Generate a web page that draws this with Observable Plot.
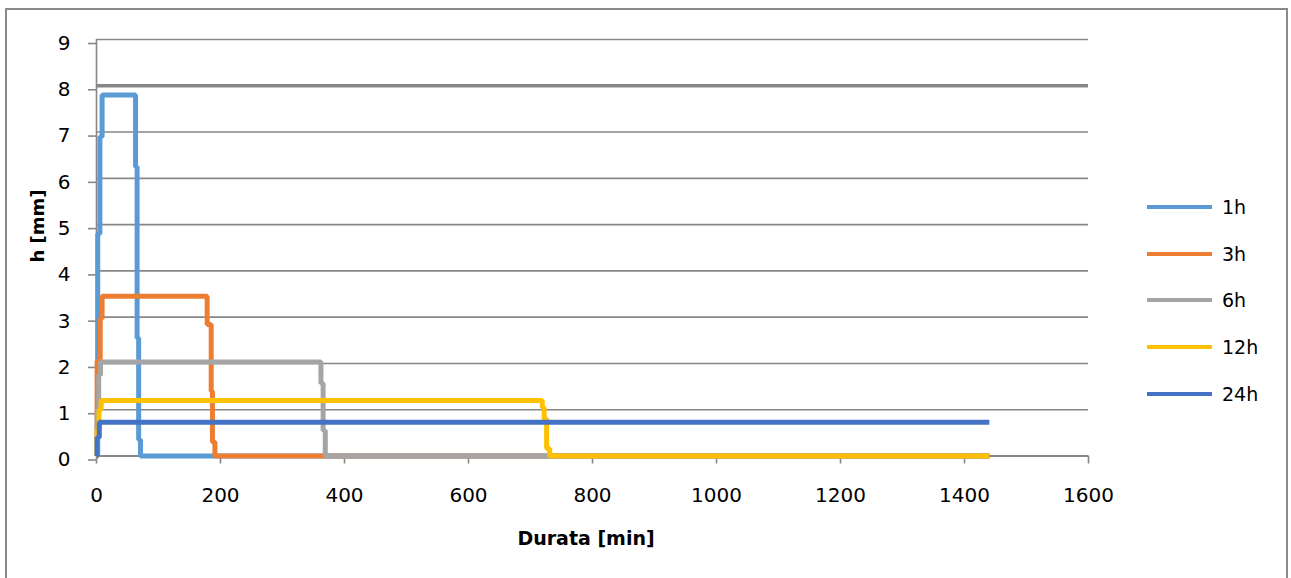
<!DOCTYPE html>
<html>
<head>
<meta charset="utf-8">
<script src="https://cdn.jsdelivr.net/npm/d3@7"></script>
<script src="https://cdn.jsdelivr.net/npm/@observablehq/plot@0.6"></script>
<style>
  body { margin: 0; background: #fff; }
  #wrap { position: relative; width: 1291px; height: 578px; overflow: hidden;
          font-family: "DejaVu Sans", Verdana, sans-serif; color: #000; }
  #frame { position: absolute; left: 5px; top: 8px; width: 1283px; height: 620px;
           border: 2px solid #8a8a8a; box-sizing: border-box; }
  #chart { position: absolute; left: 0; top: 0; }
  .ytitle { position: absolute; left: 37px; top: 226px; transform: translate(-50%, -50%) rotate(-90deg);
            font-weight: bold; font-size: 18px; white-space: nowrap; }
  .xtitle { position: absolute; left: 586px; top: 527px; transform: translateX(-50%);
            font-weight: bold; font-size: 19px; white-space: nowrap; }
  #legend { position: absolute; left: 1147px; top: 184px; }
  .item { position: relative; height: 46.7px; }
  .swatch { position: absolute; left: 0; top: 21px; width: 65px; height: 4px; }
  .lab { position: absolute; left: 75px; top: 11px; font-size: 19px; line-height: 24px; }
</style>
</head>
<body>
<div id="wrap">
  <div id="frame"></div>
  <div id="chart"></div>
  <div class="ytitle">h [mm]</div>
  <div class="xtitle">Durata [min]</div>
  <div id="legend"></div>
</div>
<script>
// Hyetographs of constant-intensity rain for several durations: [time (min), depth (mm)]
const seriesNames = ["1h", "3h", "6h", "12h", "24h"];
const seriesColors = ["#5b9bd5", "#ed7d31", "#a5a5a5", "#ffc000", "#4472c4"];

const rain1h  = [[0, 0], [2, 4.8], [5.5, 6.9], [9, 7.8], [63, 6.25], [65.5, 2.55], [68, 0.35], [71, 0], [1440, 0]];
const rain3h  = [[0, 0], [1, 2.05], [6, 2.97], [9, 3.45], [178.5, 2.84], [185, 1.4], [187, 0.3], [191, 0], [1440, 0]];
const rain6h  = [[0, 0], [1, 1.0], [3.5, 1.75], [6.5, 2.03], [362, 1.57], [365.5, 0.55], [369, 0], [1440, 0]];
const rain12h = [[0, 0], [1, 0.55], [4, 1.0], [7.5, 1.2], [719, 1.05], [722, 0.8], [726, 0.16], [731, 0], [1440, 0]];
const rain24h = [[0, 0], [1, 0.4], [4.5, 0.73], [1440, 0.73]];

const seriesData = [rain1h, rain3h, rain6h, rain12h, rain24h];

const xTicks = [0, 200, 400, 600, 800, 1000, 1200, 1400, 1600];
const yTicks = [0, 1, 2, 3, 4, 5, 6, 7, 8, 9];
const thresholdLevel = [8];

const gridColor = "#878787";

const rows = seriesData.flatMap((pts, i) =>
  pts.map(([t, h]) => ({serie: seriesNames[i], t, h})));

const lineMarks = seriesNames.map(name =>
  Plot.line(rows.filter(d => d.serie === name), {
    x: "t", y: "h", stroke: "serie", strokeWidth: 5,
    curve: "step-after", strokeLinejoin: "miter", strokeLinecap: "butt"
  }));

const chart = Plot.plot({
  width: 1291,
  height: 578,
  marginLeft: 96,
  marginRight: 203,
  marginTop: 39,
  marginBottom: 122.5,
  style: {fontFamily: "'DejaVu Sans', Verdana, sans-serif", fontSize: "20px", color: "#000", background: "transparent", overflow: "visible"},
  x: {domain: [0, 1600]},
  y: {domain: [0, 9]},
  color: {domain: seriesNames, range: seriesColors},
  marks: [
    Plot.ruleY(yTicks, {stroke: gridColor, strokeWidth: 1.6}),
    Plot.ruleY(thresholdLevel, {stroke: gridColor, strokeWidth: 3.5}),
    Plot.axisY({ticks: yTicks, tickSize: 8, tickPadding: 18, stroke: gridColor, strokeWidth: 1.6, strokeOpacity: 1, dy: 4, label: null}),
    Plot.axisX({ticks: xTicks, tickSize: 8, tickPadding: 24, stroke: gridColor, strokeWidth: 1.6, strokeOpacity: 1, tickFormat: d => String(d), label: null}),
    Plot.ruleX([0], {y1: 0, y2: 9, stroke: gridColor, strokeWidth: 1.6}),
    Plot.ruleY([0], {stroke: gridColor, strokeWidth: 2}),
    ...lineMarks
  ]
});
document.getElementById("chart").appendChild(chart);

// Legend on the right
const legend = document.getElementById("legend");
seriesNames.forEach((name, i) => {
  const item = document.createElement("div");
  item.className = "item";
  const sw = document.createElement("div");
  sw.className = "swatch";
  sw.style.background = seriesColors[i];
  const lab = document.createElement("div");
  lab.className = "lab";
  lab.textContent = name;
  item.appendChild(sw);
  item.appendChild(lab);
  legend.appendChild(item);
});
</script>
</body>
</html>
